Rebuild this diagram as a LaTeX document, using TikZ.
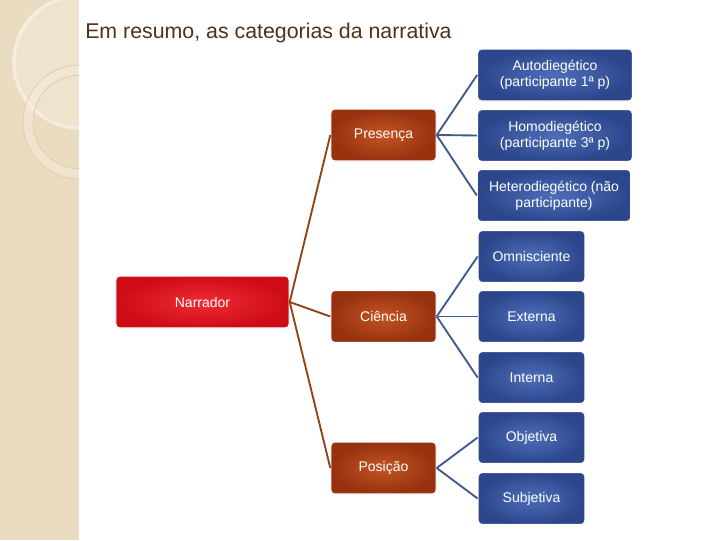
\documentclass[tikz,border=0pt]{standalone}
\usepackage{fontspec}
\setmainfont{Liberation Sans}
\definecolor{redc}{RGB}{240,44,52}\definecolor{rede}{RGB}{205,12,22}
\definecolor{brc}{RGB}{196,84,34}\definecolor{bre}{RGB}{150,50,16}
\definecolor{blc}{RGB}{78,110,185}\definecolor{ble}{RGB}{44,70,140}
\definecolor{bline}{RGB}{140,70,20}\definecolor{lline}{RGB}{65,90,140}
\definecolor{strip}{RGB}{234,220,192}
\begin{document}
\begin{tikzpicture}[x=0.75pt,y=-0.75pt,
  base/.style={draw=white,line width=0.8pt,rounded corners=3pt,text=white,font=\fontsize{10.5}{12}\selectfont,align=center,minimum height=39pt,inner sep=0pt},
  redbox/.style={base,inner color=redc,outer color=rede},
  brownbox/.style={base,inner color=brc,outer color=bre,minimum width=79pt},
  bluebox/.style={base,inner color=blc,outer color=ble},
  bl/.style={draw=bline,line width=1.4pt},
  ll/.style={draw=lline,line width=1.4pt}]
\useasboundingbox (0,0) rectangle (720,540);
\fill[white] (0,0) rectangle (720,540);
\fill[strip] (0,0) rectangle (79,540);
\begin{scope}
\clip (0,0) rectangle (79,540);
\fill[white,opacity=0.2] (80,62) circle (66);
\draw[white!85!brown,line width=2.5pt] (80,62) circle (66);
\fill[brown!15!white,opacity=0.5,even odd rule] (80,122) circle (57) (80,122) circle (47);
\draw[brown!45!white,line width=0.5pt] (80,122) circle (57);
\draw[brown!45!white,line width=0.5pt] (80,122) circle (47);
\end{scope}
\node[anchor=west,text=brown!40!black,font=\fontsize{16}{18}\selectfont,inner sep=0pt] (title) at (85,33) {Em resumo, as categorias da narrativa};
\node[redbox,minimum width=130pt] (nar) at (202.5,302) {Narrador};
\node[brownbox] (pre) at (383.5,135) {Presença};
\node[brownbox] (cie) at (383.5,316.5) {Ciência};
\node[brownbox] (pos) at (383.5,468) {Posição};
\node[bluebox,minimum width=116pt] (a1) at (555,75) {Autodiegético\\(participante 1ª p)};
\node[bluebox,minimum width=116pt] (a2) at (555,135.5) {Homodiegético\\(participante 3ª p)};
\node[bluebox,minimum width=115pt] (a3) at (554,195.5) {Heterodiegético (não\\participante)};
\node[bluebox,minimum width=80pt] (b1) at (531.5,256.5) {Omnisciente};
\node[bluebox,minimum width=80pt] (b2) at (531.5,316.5) {Externa};
\node[bluebox,minimum width=80pt] (b3) at (531.5,377.5) {Interna};
\node[bluebox,minimum width=80pt] (c1) at (531.5,437.5) {Objetiva};
\node[bluebox,minimum width=80pt] (c2) at (531.5,498.5) {Subjetiva};
\foreach \t in {pre,cie,pos} \draw[bl] (nar.east) -- (\t.west);
\foreach \t in {a1,a2,a3} \draw[ll] (pre.east) -- (\t.west);
\foreach \t in {b1,b2,b3} \draw[ll] (cie.east) -- (\t.west);
\foreach \t in {c1,c2} \draw[ll] (pos.east) -- (\t.west);
\end{tikzpicture}
\end{document}
